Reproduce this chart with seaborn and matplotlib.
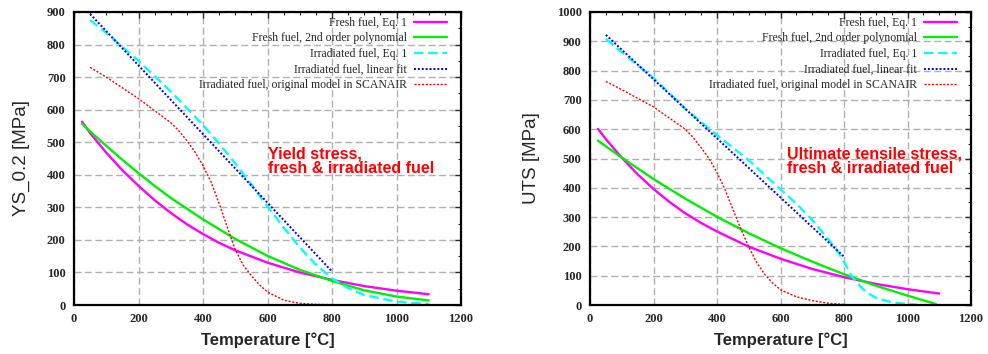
import matplotlib
matplotlib.use("Agg")
import matplotlib.pyplot as plt
import seaborn as sns
from matplotlib.ticker import MultipleLocator

# ---------------- data ----------------
labels = ["Fresh fuel, Eq. 1", "Fresh fuel, 2nd order polynomial",
          "Irradiated fuel, Eq. 1", "Irradiated fuel, linear fit",
          "Irradiated fuel, original model in SCANAIR"]

# Yield stress (YS_0.2)
ys_fresh_eq1_x = [25, 50, 100, 150, 200, 250, 300, 350, 400, 450, 500, 600, 700, 800, 900, 1000, 1100]
ys_fresh_eq1_y = [563, 528, 468, 414, 366, 322, 283, 248, 218, 191, 168, 130, 100, 77, 58, 44, 33]
ys_fresh_poly_x = [25, 50, 100, 150, 200, 250, 300, 400, 500, 600, 700, 800, 900, 1000, 1100]
ys_fresh_poly_y = [557, 533, 489, 446, 405, 366, 329, 263, 203, 151, 108, 74, 45, 26, 14]
ys_irr_eq1_x = [50, 100, 200, 300, 400, 450, 500, 550, 600, 650, 700, 750, 800, 850, 900, 1000, 1100]
ys_irr_eq1_y = [875, 836, 750, 656, 553, 496, 435, 370, 303, 238, 177, 124, 82, 52, 31, 10, 3]
ys_irr_lin_x = [50, 800]
ys_irr_lin_y = [894, 103]
ys_scanair_x = [50, 100, 200, 300, 325, 350, 375, 400, 425, 450, 475, 500, 525, 550, 575, 600,
                650, 700, 750, 800]
ys_scanair_y = [730, 700, 634, 560, 535, 505, 470, 428, 378, 312, 240, 170, 122, 90, 62, 40,
                15, 5, 2, 1]

# Ultimate tensile stress (UTS)
uts_fresh_eq1_x = [25, 50, 100, 150, 200, 250, 300, 350, 400, 450, 500, 600, 700, 800, 900, 1000, 1100]
uts_fresh_eq1_y = [601, 566, 503, 446, 396, 352, 313, 280, 251, 225, 199, 158, 123, 95, 72, 54, 39]
uts_fresh_poly_x = [25, 100, 200, 300, 400, 500, 600, 700, 800, 900, 1000, 1090]
uts_fresh_poly_y = [561, 503, 430, 363, 301, 245, 194, 148, 105, 66, 32, 3]
uts_irr_eq1_x = [50, 100, 200, 300, 400, 500, 600, 650, 700, 750, 775, 800, 825, 850, 875, 900,
                 950, 1000, 1030]
uts_irr_eq1_y = [908, 863, 775, 670, 580, 494, 395, 346, 290, 225, 190, 148, 97, 65, 40, 25,
                 9, 3, 1]
uts_irr_lin_x = [50, 800]
uts_irr_lin_y = [922, 165]
uts_scanair_x = [50, 100, 200, 300, 325, 350, 375, 400, 425, 450, 475, 500, 525, 550, 575, 600,
                 650, 700, 750, 800]
uts_scanair_y = [763, 735, 676, 600, 572, 537, 500, 452, 395, 327, 260, 198, 145, 105, 75, 52,
                 28, 15, 6, 2]

# ---------------- style ----------------
sns.set_style("white")
plt.rcParams["font.family"] = ["DejaVu Sans"]

colors = ["#ff00ff", "#00ee00", "#00ffff", "#0000ee", "#ff0000"]
styles = [dict(lw=1.7, ls="-"), dict(lw=1.7, ls="-"), dict(lw=1.7, ls=(0, (4, 2))),
          dict(lw=1.4, ls=(0, (1, 1))), dict(lw=1.0, ls=(0, (1.5, 1.2)))]

fig = plt.figure(figsize=(9.88, 3.54), dpi=100)
ax1 = fig.add_axes([74 / 988, 1 - 305 / 354, 387 / 988, 293 / 354])
ax2 = fig.add_axes([590 / 988, 1 - 305 / 354, 381 / 988, 293 / 354])

panels = [
    (ax1, [(ys_fresh_eq1_x, ys_fresh_eq1_y), (ys_fresh_poly_x, ys_fresh_poly_y),
           (ys_irr_eq1_x, ys_irr_eq1_y), (ys_irr_lin_x, ys_irr_lin_y),
           (ys_scanair_x, ys_scanair_y)],
     900, "YS_0.2 [MPa]", "Yield stress,\nfresh & irradiated fuel", (600, 488), 387),
    (ax2, [(uts_fresh_eq1_x, uts_fresh_eq1_y), (uts_fresh_poly_x, uts_fresh_poly_y),
           (uts_irr_eq1_x, uts_irr_eq1_y), (uts_irr_lin_x, uts_irr_lin_y),
           (uts_scanair_x, uts_scanair_y)],
     1000, "UTS [MPa]", "Ultimate tensile stress,\nfresh & irradiated fuel", (620, 542), 381),
]

serif = ["Liberation Serif", "DejaVu Serif"]
sans = ["Liberation Sans", "DejaVu Sans"]
for ax, series, ymax, ylabel, note, notepos, wpx in panels:
    for (xs, ys), lab, c, st in zip(series, labels, colors, styles):
        sns.lineplot(x=xs, y=ys, ax=ax, color=c, label=lab, sort=False,
                     estimator=None, linewidth=st["lw"], linestyle=st["ls"])
    ax.set_xlim(0, 1200)
    ax.set_ylim(0, ymax)
    ax.xaxis.set_major_locator(MultipleLocator(200))
    ax.xaxis.set_minor_locator(MultipleLocator(50))
    ax.yaxis.set_major_locator(MultipleLocator(100))
    ax.yaxis.set_minor_locator(MultipleLocator(50))
    ax.grid(True, which="major", color="#b0b0b0", ls=(0, (5, 2.5)), lw=1.0)
    ax.set_axisbelow(True)
    for sp in ax.spines.values():
        sp.set_visible(True)
        sp.set_color("black")
        sp.set_linewidth(1.6)
    ax.tick_params(which="major", direction="in", length=4, width=1, top=True, right=True,
                   labelsize=9, pad=6)
    ax.tick_params(which="minor", direction="in", length=2, width=0.8, top=True, right=True)
    for lbl in ax.get_xticklabels() + ax.get_yticklabels():
        lbl.set_family(serif)
        lbl.set_fontweight("bold")
    ax.set_xlabel("Temperature [°C]", fontsize=12, fontweight="bold", family=sans, labelpad=5)
    ax.set_ylabel(ylabel, fontsize=13.5, family=sans, labelpad=12)
    ax.legend(loc="upper right", bbox_to_anchor=(1 - 9 / wpx, 1.0), frameon=False,
              markerfirst=False, prop={"family": serif, "size": 8.5}, handlelength=2.8,
              labelspacing=0.31, borderaxespad=0.0, handletextpad=0.6)
    ax.text(notepos[0], notepos[1], note, color="#ff0000", fontsize=11.5, fontweight="bold",
            family=sans, va="top", ha="left", linespacing=0.95)

fig.savefig("out.png", dpi=100)
